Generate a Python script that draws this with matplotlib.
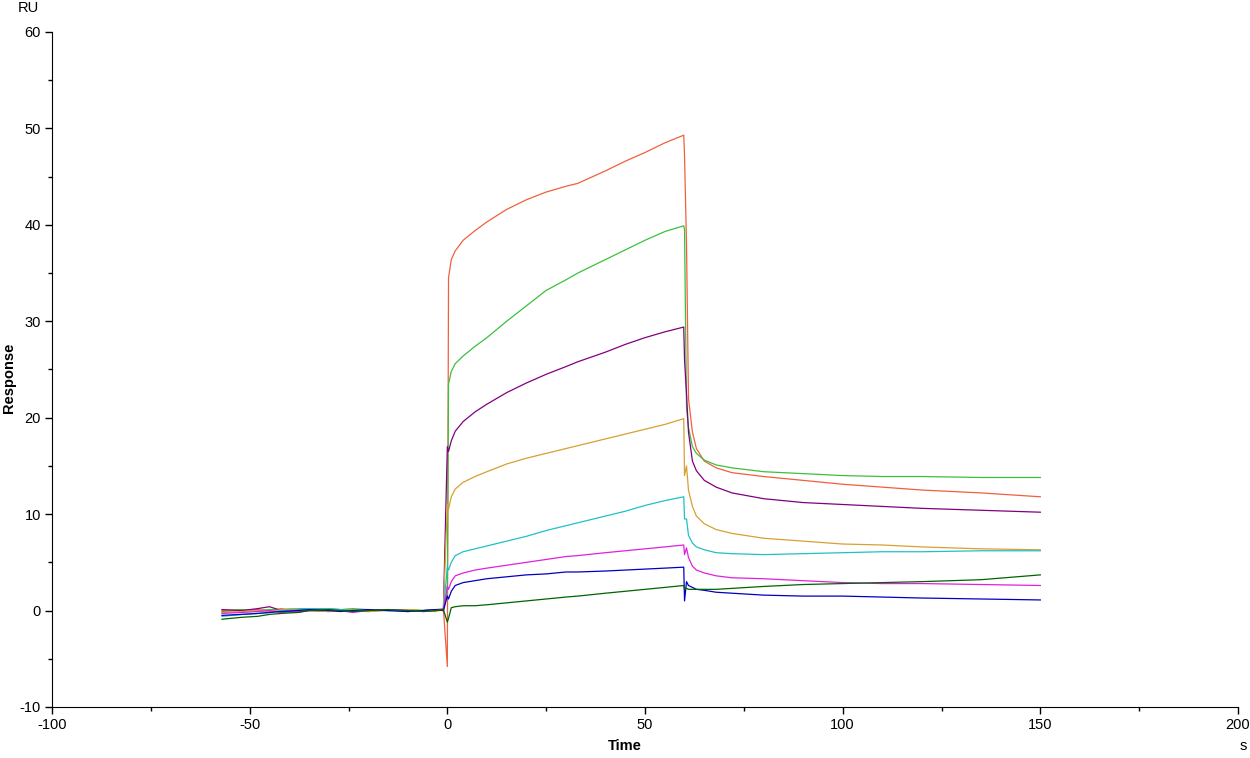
import numpy as np
import matplotlib.pyplot as plt
from matplotlib.ticker import MultipleLocator

plt.rcParams['font.family'] = ['Liberation Sans', 'DejaVu Sans']
plt.rcParams['axes.unicode_minus'] = False

t_base = [-57, -52, -48, -45, -42, -38, -35, -30, -27, -24, -20, -15, -10, -6, -3, -1]
t_assoc = [0, 0.3, 1, 2, 4, 7, 10, 15, 20, 25, 30, 33, 40, 45, 50, 55, 59.8, 60]
t_diss = [60.5, 61, 62, 63, 65, 68, 72, 80, 90, 100, 110, 120, 135, 150]

colors = ['#f0603c', '#3cc03c', '#800080', '#d8a030', '#20c0c8', '#e020e0', '#0000c0', '#006400']

base = [
    [-0.1, 0.0, 0.1, 0.0, 0.2, -0.1, 0.1, 0.0, 0.1, -0.1, 0.0, 0.1, -0.1, 0.0, 0.1, 0.2],
    [0.0, 0.1, 0.0, 0.1, 0.1, 0.2, 0.2, 0.2, 0.1, 0.2, 0.1, 0.0, 0.1, 0.0, 0.1, 0.0],
    [0.1, 0.0, 0.2, 0.4, 0.0, -0.2, 0.0, -0.1, 0.1, 0.0, -0.1, 0.1, 0.0, 0.0, 0.1, 0.0],
    [-0.2, -0.1, 0.0, -0.1, 0.1, 0.2, 0.0, -0.1, 0.0, 0.1, -0.1, 0.0, 0.1, 0.0, -0.1, 0.1],
    [-0.6, -0.4, -0.3, -0.2, 0.0, 0.1, 0.2, 0.2, 0.1, 0.0, 0.1, 0.0, -0.1, 0.0, 0.1, 0.0],
    [-0.3, -0.2, -0.1, 0.0, -0.2, -0.1, 0.0, 0.1, 0.0, -0.2, 0.0, 0.1, 0.0, -0.1, 0.0, 0.1],
    [-0.5, -0.4, -0.3, -0.2, -0.1, 0.0, 0.1, 0.0, -0.1, 0.0, 0.1, 0.0, -0.1, 0.0, 0.1, 0.0],
    [-0.9, -0.7, -0.6, -0.4, -0.3, -0.2, 0.0, 0.1, 0.0, -0.1, 0.0, 0.1, 0.0, -0.1, 0.0, 0.1],
]

assoc = [
    [-5.8, 34.5, 36.4, 37.3, 38.4, 39.4, 40.3, 41.6, 42.6, 43.4, 44.0, 44.3, 45.6, 46.6, 47.5, 48.5, 49.3, 47.2],
    [2.0, 23.5, 24.8, 25.6, 26.4, 27.4, 28.3, 30.0, 31.6, 33.2, 34.3, 35.0, 36.4, 37.4, 38.4, 39.3, 39.9, 39.5],
    [17.0, 16.5, 17.6, 18.6, 19.6, 20.6, 21.4, 22.6, 23.6, 24.5, 25.3, 25.8, 26.8, 27.6, 28.3, 28.9, 29.4, 26.0],
    [11.0, 10.5, 11.8, 12.6, 13.3, 13.9, 14.4, 15.2, 15.8, 16.3, 16.8, 17.1, 17.8, 18.3, 18.8, 19.3, 19.9, 14.0],
    [4.5, 4.2, 5.0, 5.7, 6.1, 6.4, 6.7, 7.2, 7.7, 8.3, 8.8, 9.1, 9.8, 10.3, 10.9, 11.4, 11.8, 9.5],
    [2.5, 2.2, 3.0, 3.6, 3.9, 4.2, 4.4, 4.7, 5.0, 5.3, 5.6, 5.7, 6.0, 6.2, 6.4, 6.6, 6.8, 5.8],
    [1.5, 1.2, 2.0, 2.6, 2.9, 3.1, 3.3, 3.5, 3.7, 3.8, 4.0, 4.0, 4.1, 4.2, 4.3, 4.4, 4.5, 1.0],
    [-1.2, -0.8, 0.3, 0.4, 0.5, 0.5, 0.6, 0.8, 1.0, 1.2, 1.4, 1.5, 1.8, 2.0, 2.2, 2.4, 2.6, 2.2],
]

diss = [
    [38.0, 22.0, 18.5, 16.8, 15.5, 14.8, 14.3, 13.9, 13.5, 13.1, 12.8, 12.5, 12.2, 11.8],
    [21.0, 19.0, 17.0, 16.3, 15.6, 15.1, 14.8, 14.4, 14.2, 14.0, 13.9, 13.9, 13.8, 13.8],
    [22.5, 18.5, 15.5, 14.5, 13.5, 12.8, 12.2, 11.6, 11.2, 11.0, 10.8, 10.6, 10.4, 10.2],
    [15.0, 12.5, 10.8, 9.8, 9.0, 8.4, 8.0, 7.5, 7.2, 6.9, 6.8, 6.6, 6.4, 6.3],
    [9.5, 7.8, 7.0, 6.6, 6.3, 6.0, 5.9, 5.8, 5.9, 6.0, 6.1, 6.1, 6.2, 6.2],
    [6.5, 5.5, 4.6, 4.2, 3.9, 3.6, 3.4, 3.3, 3.1, 2.9, 2.8, 2.8, 2.7, 2.6],
    [3.0, 2.6, 2.4, 2.2, 2.1, 1.9, 1.8, 1.6, 1.5, 1.5, 1.4, 1.3, 1.2, 1.1],
    [2.3, 2.2, 2.2, 2.2, 2.2, 2.2, 2.3, 2.5, 2.7, 2.8, 2.9, 3.0, 3.2, 3.7],
]

fig = plt.figure(figsize=(12.5, 7.58), dpi=100)
ax = fig.add_axes([0.0416, 0.0673, 0.9488, 0.8905])

t_all = t_base + t_assoc + t_diss
for c, b, a, d in zip(colors, base, assoc, diss):
    ax.plot(t_all, b + a + d, color=c, lw=0.9)

ax.set_xlim(-100, 200)
ax.set_ylim(-10, 60)
ax.xaxis.set_major_locator(MultipleLocator(50))
ax.xaxis.set_minor_locator(MultipleLocator(25))
ax.yaxis.set_major_locator(MultipleLocator(10))
ax.yaxis.set_minor_locator(MultipleLocator(5))
for s in ['top', 'right']:
    ax.spines[s].set_visible(False)
ax.tick_params(which='major', length=5, width=1, labelsize=10.5, pad=3)
ax.tick_params(which='minor', length=3, width=1)

fig.text(18 / 1250, 1 - 8 / 758, 'RU', fontsize=10.5, ha='left', va='center')
fig.text(1243 / 1250, 1 - 746 / 758, 's', fontsize=10.5, ha='center', va='center')
fig.text(625 / 1250, 1 - 746 / 758, 'Time', fontsize=10.5, fontweight='bold', ha='center', va='center')
fig.text(9 / 1250, 1 - 378 / 758, 'Response', fontsize=10.5, fontweight='bold',
         rotation=90, ha='center', va='center')

fig.savefig('out.png', dpi=100)
